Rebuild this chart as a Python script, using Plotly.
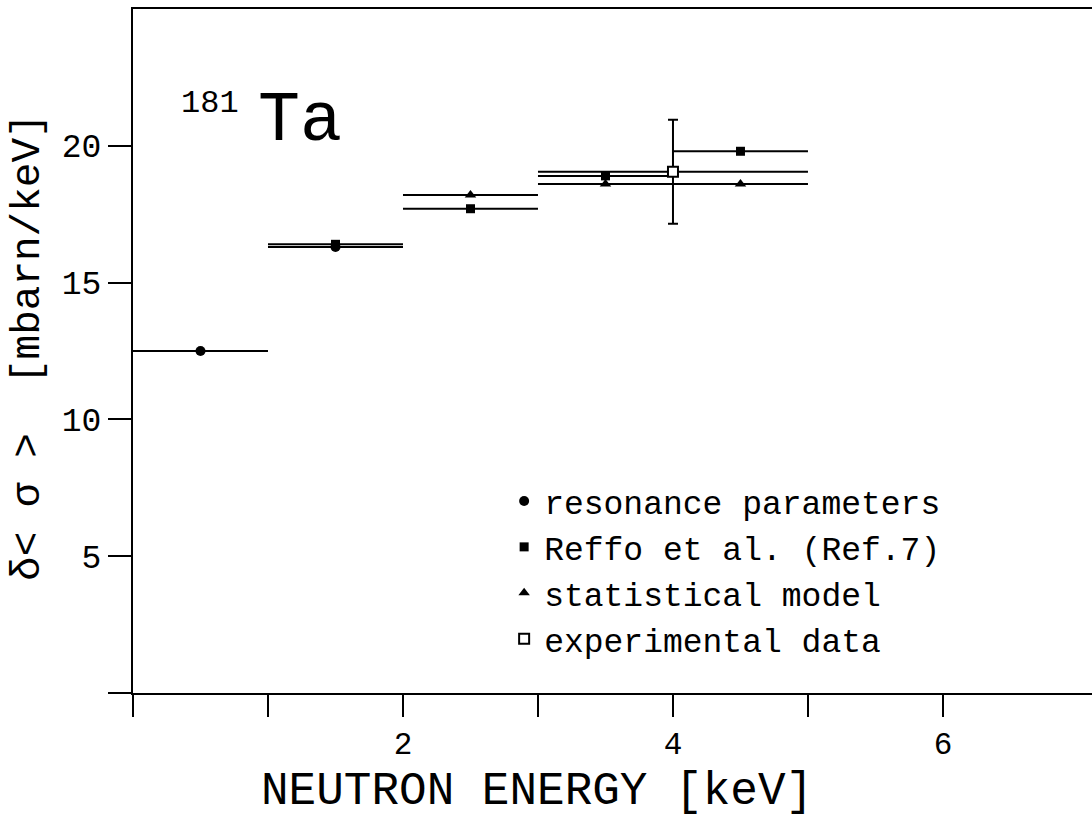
import plotly.graph_objects as go

# Energy bins (keV) and average cross-section values <sigma> [mbarn/keV]
res_lo = [0.0, 1.0]
res_hi = [1.0, 2.0]
res_val = [12.5, 16.3]

reffo_lo = [1.0, 2.0, 3.0, 4.0]
reffo_hi = [2.0, 3.0, 4.0, 5.0]
reffo_val = [16.4, 17.7, 18.9, 19.8]

stat_lo = [2.0, 3.0, 4.0]
stat_hi = [3.0, 4.0, 5.0]
stat_val = [18.2, 18.6, 18.6]

exp_lo = [3.0]
exp_hi = [5.0]
exp_x = [4.0]
exp_val = [19.05]
exp_err = [1.9]

x_tickvals = [0, 1, 2, 3, 4, 5, 6]
x_ticktext = ["", "", "2", "", "4", "", "6"]
y_tickvals = [0, 5, 10, 15, 20]
y_ticktext = ["", "5", "10", "15", "20"]

FONT = "Liberation Mono"
INK = "black"


def centers(lo, hi):
    return [(a + b) / 2 for a, b in zip(lo, hi)]


fig = go.Figure()


def add_series(name, lo, hi, x, y, symbol, size, filled=True, yerr=None):
    err_x = dict(type="data", symmetric=False,
                 array=[h - c for h, c in zip(hi, x)],
                 arrayminus=[c - l for l, c in zip(lo, x)],
                 color=INK, thickness=2, width=0)
    err_y = None
    if yerr is not None:
        err_y = dict(type="data", array=yerr, color=INK, thickness=2, width=5)
    fig.add_trace(go.Scatter(
        x=x, y=y, mode="markers", name=name, legendgroup=name,
        marker=dict(symbol=symbol, size=size,
                    color=INK if filled else "white",
                    line=dict(color=INK, width=0 if filled else 2)),
        error_x=err_x, error_y=err_y,
    ))


add_series("resonance parameters", res_lo, res_hi, centers(res_lo, res_hi),
           res_val, "circle", 10)
add_series("Reffo et al. (Ref.7)", reffo_lo, reffo_hi, centers(reffo_lo, reffo_hi),
           reffo_val, "square", 9)
add_series("statistical model", stat_lo, stat_hi, centers(stat_lo, stat_hi),
           stat_val, "triangle-up", 10)
add_series("experimental data", exp_lo, exp_hi, exp_x,
           exp_val, "square", 10, filled=False, yerr=exp_err)

# Nuclide label
fig.add_annotation(x=0.113, y=0.862, xref="paper", yref="paper", text="181",
                   showarrow=False, xanchor="right", yanchor="middle",
                   font=dict(family=FONT, size=32, color=INK))
fig.add_annotation(x=0.128, y=0.835, xref="paper", yref="paper", text="Ta",
                   showarrow=False, xanchor="left", yanchor="middle",
                   font=dict(family=FONT, size=70, color=INK))

# Axis titles
fig.add_annotation(x=0.421, y=-0.1447, xref="paper", yref="paper",
                   text="NEUTRON ENERGY [keV]", showarrow=False,
                   xanchor="center", yanchor="middle",
                   font=dict(family=FONT, size=46, color=INK))
fig.add_annotation(x=-0.1095, y=0.506, xref="paper", yref="paper",
                   text="δ< σ >  [mbarn/keV]", showarrow=False, textangle=-90,
                   xanchor="center", yanchor="middle",
                   font=dict(family=FONT, size=41, color=INK))

fig.update_layout(
    width=1092, height=821,
    margin=dict(l=133, r=0, t=9, b=128),
    paper_bgcolor="white", plot_bgcolor="white",
    showlegend=True,
    legend=dict(x=0.387, y=0.3216, xanchor="left", yanchor="top",
                font=dict(family=FONT, size=33, color=INK),
                bgcolor="rgba(0,0,0,0)", tracegroupgap=0,
                itemsizing="trace"),
    xaxis=dict(range=[0, 7.104], showgrid=False, zeroline=False,
               showline=True, linecolor=INK, linewidth=2, mirror=True,
               ticks="outside", ticklen=22, tickwidth=2, tickcolor=INK,
               tickvals=x_tickvals, ticktext=x_ticktext,
               tickfont=dict(family=FONT, size=31, color=INK)),
    yaxis=dict(range=[0, 25], showgrid=False, zeroline=False,
               showline=True, linecolor=INK, linewidth=2,
               ticks="outside", ticklen=23, tickwidth=2, tickcolor=INK,
               tickvals=y_tickvals, ticktext=y_ticktext,
               tickfont=dict(family=FONT, size=33, color=INK)),
)

fig.write_html("out.html")
